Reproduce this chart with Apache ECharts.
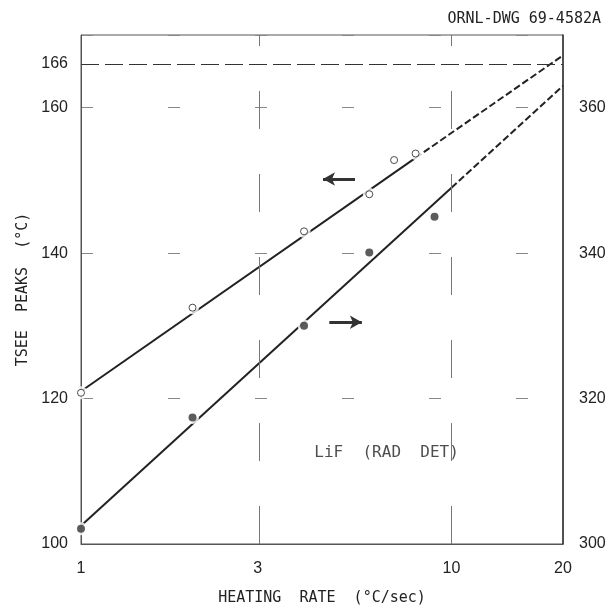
<!DOCTYPE html>
<html><head><meta charset="utf-8">
<script src="https://cdn.jsdelivr.net/npm/echarts@6/dist/echarts.min.js"></script>
<style>html,body{margin:0;padding:0;background:#fff}#c{width:612px;height:611px}</style>
</head><body><div id="c"></div>
<script>
// x tick labels (heating rate, °C/sec) on a log scale
const xTickLabels = [1, 3, 10, 20];
// open circles -> left axis (°C)
const openRates = [1, 2, 4, 6, 7, 8];
const openPeaks = [120.8, 132.5, 143.0, 148.1, 152.8, 153.7];
// filled circles -> right axis
const filledRates = [1, 2, 4, 6, 9];
const filledPeaks = [302.1, 317.4, 330.0, 340.1, 345.0];
// fitted lines (solid part, then dashed extrapolation)
const openFitRates = [1, 8, 20];
const openFitPeaks = [121.0, 153.1, 167.2];
const filledFitRates = [1, 10, 20];
const filledFitPeaks = [302.5, 349.0, 363.0];
// reference lines
const guideRates = [3, 10];
const limitPeak = 166;
// arrows [fromRate, toRate, value]
const arrowLeft = [5.49, 4.5, 150.2];
const arrowRight = [4.68, 5.73, 330.5];
const noteText = 'LiF  (RAD  DET)';
const notePos = [6.68, 112.6];

const lg = Math.log10;
const pts = (r, v) => r.map((x, i) => [lg(x), v[i]]);
const X_MAX = lg(20);
const ink = '#222';
const mono = 'DejaVu Sans Mono';
const sans = 'Liberation Sans';

const chart = echarts.init(document.getElementById('c'), null, {renderer: 'canvas'});
const lineBase = {type: 'line', symbol: 'none', silent: true, animation: false, z: 3};
chart.setOption({
  animation: false,
  backgroundColor: '#fff',
  title: {
    text: 'ORNL-DWG 69-4582A', right: 6, top: 7,
    textStyle: {fontFamily: mono, fontSize: 15, fontWeight: 'normal', color: ink}
  },
  grid: {left: 81, right: 49, top: 35, bottom: 62, show: true, borderColor: '#555', borderWidth: 1},
  xAxis: {
    type: 'value', min: 0, max: X_MAX,
    name: 'HEATING  RATE  (°C/sec)', nameLocation: 'middle', nameGap: 47,
    nameTextStyle: {fontFamily: mono, fontSize: 15, color: ink},
    axisLine: {show: true, lineStyle: {color: '#555', width: 1}},
    axisTick: {show: false},
    splitLine: {show: false},
    axisLabel: {
      customValues: xTickLabels.map(v => lg(v)),
      formatter: v => String(Math.round(Math.pow(10, v))),
      fontFamily: sans, fontSize: 16, color: ink, margin: 17
    }
  },
  yAxis: [{
    type: 'value', min: 100, max: 170, interval: 20, position: 'left',
    name: 'TSEE  PEAKS  (°C)', nameLocation: 'middle', nameGap: 50,
    nameTextStyle: {fontFamily: mono, fontSize: 15, color: ink},
    axisLine: {show: true, lineStyle: {color: '#555', width: 1}},
    axisTick: {show: false},
    axisLabel: {fontFamily: sans, fontSize: 16, color: ink, margin: 13, showMaxLabel: false},
    splitLine: {show: true, lineStyle: {color: '#888', width: 1, type: [12, 75]}}
  }, {
    type: 'value', min: 300, max: 370, interval: 20, position: 'right',
    axisLine: {show: true, lineStyle: {color: '#333', width: 1.5}},
    axisTick: {show: false},
    axisLabel: {fontFamily: sans, fontSize: 16, color: ink, margin: 16, showMaxLabel: false},
    splitLine: {show: false}
  }],
  series: [
    { // guides
      type: 'scatter', data: [], yAxisIndex: 0, silent: true, z: 1,
      markLine: {
        silent: true, symbol: 'none', animation: false,
        data: [
          ...guideRates.map(r => ({xAxis: lg(r), lineStyle: {color: '#777', width: 1, type: [38, 45]}, label: {show: false}})),
          {yAxis: limitPeak, lineStyle: {color: '#333', width: 1.2, type: [18, 6]},
           label: {show: true, position: 'start', formatter: String(limitPeak), fontFamily: sans, fontSize: 16, color: ink, distance: 13}}
        ]
      }
    },
    Object.assign({}, lineBase, {yAxisIndex: 0, data: pts(openFitRates.slice(0, 2), openFitPeaks.slice(0, 2)), lineStyle: {color: ink, width: 2}}),
    Object.assign({}, lineBase, {yAxisIndex: 0, data: pts(openFitRates.slice(1), openFitPeaks.slice(1)), lineStyle: {color: ink, width: 2, type: [7, 3]}}),
    Object.assign({}, lineBase, {yAxisIndex: 1, data: pts(filledFitRates.slice(0, 2), filledFitPeaks.slice(0, 2)), lineStyle: {color: ink, width: 2}}),
    Object.assign({}, lineBase, {yAxisIndex: 1, data: pts(filledFitRates.slice(1), filledFitPeaks.slice(1)), lineStyle: {color: ink, width: 2, type: [7, 3]}}),
    // white gaps around markers
    {type: 'scatter', yAxisIndex: 0, data: pts(openRates, openPeaks), symbolSize: 13, itemStyle: {color: '#fff'}, silent: true, z: 4},
    {type: 'scatter', yAxisIndex: 1, data: pts(filledRates, filledPeaks), symbolSize: 13, itemStyle: {color: '#fff'}, silent: true, z: 4},
    // markers
    {type: 'scatter', yAxisIndex: 0, data: pts(openRates, openPeaks), symbolSize: 7, itemStyle: {color: '#fff', borderColor: ink, borderWidth: 1}, silent: true, z: 5},
    {type: 'scatter', yAxisIndex: 1, data: pts(filledRates, filledPeaks), symbolSize: 8, itemStyle: {color: '#333'}, silent: true, z: 5},
    { // arrows
      type: 'scatter', data: [], yAxisIndex: 0, silent: true, z: 5,
      markLine: {silent: true, animation: false, symbol: ['none', 'arrow'], symbolSize: [10, 12],
        lineStyle: {color: '#333', width: 3, type: 'solid'}, label: {show: false},
        data: [[{coord: [lg(arrowLeft[0]), arrowLeft[2]]}, {coord: [lg(arrowLeft[1]), arrowLeft[2]]}]]}
    },
    {
      type: 'scatter', data: [], yAxisIndex: 1, silent: true, z: 5,
      markLine: {silent: true, animation: false, symbol: ['none', 'arrow'], symbolSize: [10, 12],
        lineStyle: {color: '#333', width: 3, type: 'solid'}, label: {show: false},
        data: [[{coord: [lg(arrowRight[0]), arrowRight[2]]}, {coord: [lg(arrowRight[1]), arrowRight[2]]}]]}
    },
    { // note
      type: 'scatter', yAxisIndex: 0, data: [[lg(notePos[0]), notePos[1]]], symbolSize: 1,
      itemStyle: {color: 'rgba(0,0,0,0)'}, silent: true, z: 6,
      label: {show: true, position: 'inside', formatter: noteText, fontFamily: mono, fontSize: 16, color: ink}
    }
  ]
});
</script></body></html>
